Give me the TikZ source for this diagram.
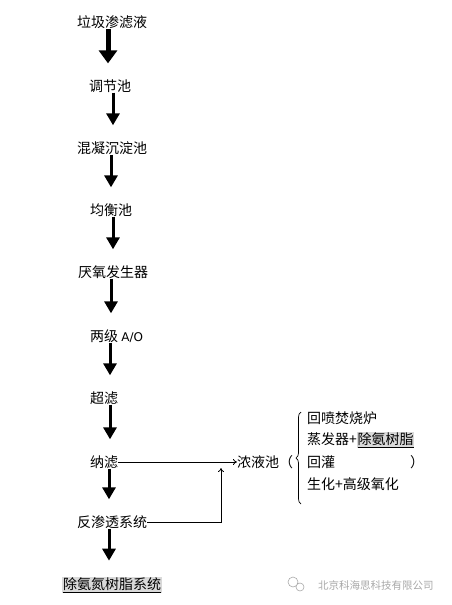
\documentclass[tikz,border=0pt]{standalone}
\usepackage{fontspec}
\setmainfont{Noto Sans CJK SC}
\newfontfamily\latinfont{DejaVu Sans}
\usepackage{xcolor}
\usetikzlibrary{arrows.meta,positioning,calc,decorations.pathreplacing}
\definecolor{hlgray}{HTML}{D9D9D9}
\definecolor{markgray}{HTML}{A8A8A8}
\newcommand{\resinmark}[1]{{\setlength{\fboxsep}{0.6pt}\colorbox{hlgray}{\underline{#1}}}}

\begin{document}
\begin{tikzpicture}[x=1pt,y=-1pt,
    stage/.style={inner sep=0pt,font=\fontsize{14}{16}\selectfont},
    flow/.style={line width=3pt,shorten >=16pt,-{Triangle[length=12pt,width=13pt]}},
    bigflow/.style={flow,line width=5pt,-{Triangle[length=13pt,width=18pt]}},
    side/.style={line width=0.8pt,-{To[length=4pt,width=6pt]}}]
    \useasboundingbox (0,0) rectangle (451,605);
    \coordinate (spine) at (111,0);
    \node[stage] (leachate) at (112,22) {垃圾渗滤液};
    \node[stage] (equal) at (110,86) {调节池};
    \node[stage] (coag) at (112,148) {混凝沉淀池};
    \node[stage] (balance) at (111,210) {均衡池};
    \node[stage] (anaer) at (113,272) {厌氧发生器};
    \node[stage,anchor=west] (ao) at (90,336) {两级 {\latinfont\fontsize{12}{14}\selectfont A/O}};
    \node[stage] (uf) at (104,398) {超滤};
    \node[stage] (nf) at (104,462) {纳滤};
    \node[stage] (ro) at (112,522) {反渗透系统};
    \node[stage] (resin) at (112,585) {\resinmark{除氨氮树脂系统}};
    \draw[bigflow] (leachate.south -| 108,0) -- (equal.north -| 108,0);
    \draw[flow] (equal.south -| 113,0) -- (coag.north -| 113,0);
    \draw[flow] (coag.south -| spine) -- (balance.north -| spine);
    \draw[flow] (balance.south -| 113,0) -- (anaer.north -| 113,0);
    \draw[flow] (anaer.south -| spine) -- (ao.north -| spine);
    \draw[flow] (ao.south -| 110,0) -- (uf.north -| 110,0);
    \draw[flow] (uf.south -| 110,0) -- (nf.north -| 110,0);
    \draw[flow] (nf.south -| 109,0) -- (ro.north -| 109,0);
    \draw[flow] (ro.south -| 109,0) -- (resin.north -| 109,0);
    % concentrate branch
    \node[stage,anchor=west] (pool) at (237,462) {浓液池（};
    \coordinate (merge) at (221,468);
    \draw[side] (nf.east) -- (pool.west);
    \draw[side] (ro.east) -| (merge);
    \draw[line width=0.7pt,decorate,decoration={brace,amplitude=5pt}] (301,504) -- (301,412);
    \node[stage,anchor=west] (opt1) at (307,418) {回喷焚烧炉};
    \node[stage,anchor=west] (opt2) at (307,440) {蒸发器+\resinmark{除氨树脂}};
    \node[stage,anchor=west] (opt3) at (307,462) {回灌};
    \node[stage,anchor=west] (opt4) at (307,484) {生化+高级氧化};
    \node[stage] (close) at (417,462) {）};
    % watermark
    \draw[markgray,line width=0.6pt] (293,582) circle (5) (300,587) circle (4);
    \node[inner sep=0pt,anchor=west,text=markgray,font=\fontsize{10.5}{12}\selectfont] (mark) at (318,585) {北京科海思科技有限公司};
\end{tikzpicture}
\end{document}
